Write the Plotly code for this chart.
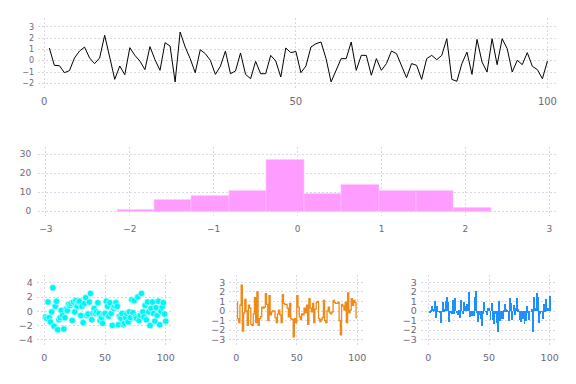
import plotly.graph_objects as go

# ---- data ----
line_x = list(range(1, 101))
line_y = [1.12, -0.41, -0.44, -1.06, -0.88, 0.24, 0.85, 1.2, 0.24, -0.26,
          0.24, 2.24, 0.32, -1.65, -0.47, -1.24, 1.15, 0.47, -0.03, -0.79,
          1.24, 0.09, -0.85, 1.59, 1.29, -1.88, 2.53, 1.21, 0.18, -1.06,
          0.97, 0.62, 0.03, -1.21, -0.5, 0.85, -1.15, -0.91, 0.68, -1.21,
          -1.59, -0.06, -1.15, -1.15, 0.47, -0.03, -1.44, 1.12, 0.71, 0.82,
          -1.06, -0.47, 1.21, 1.5, 1.65, 0.18, -1.88, -0.85, 0.18, 0.18,
          1.65, -0.85, 0.47, 0.47, -1.29, 0.18, -0.85, -0.26, 0.85, 0.62,
          -0.41, -1.5, -0.26, -0.41, -1.65, 0.18, 0.47, 0.09, 0.47, 1.94,
          -1.65, -1.82, -0.26, 0.76, -1.21, 1.88, -0.12, -1.0, 1.94, -0.35,
          1.94, 1.06, -1.0, 0.03, -0.35, 0.71, -0.5, -0.79, -1.59, -0.03]

hist_edges = [-2.154, -1.708, -1.262, -0.816, -0.370, 0.076, 0.522, 0.968, 1.414, 1.860, 2.306]
hist_counts = [1, 6, 8, 11, 27, 9, 14, 11, 11, 2]

scatter_x = list(range(1, 101))
scatter_y = [-0.8, -1.0, 1.3, -0.9, -1.5, -0.1, 3.3, -2.1, 0.7, 1.4,
             -2.6, -1.2, -0.9, 0.1, -0.6, -2.5, -0.9, 0.3, 0.1, 1.0,
             0.8, 1.1, -1.3, 1.3, -0.1, 1.5, 0.7, 1.3, 1.4, -0.6,
             0.7, -1.6, 1.1, 1.9, -0.6, -0.4, 1.3, 2.5, -1.2, -0.3,
             0.4, -0.3, -0.1, 1.2, -0.3, -1.3, -0.9, -1.7, -0.4, -0.3,
             1.4, 0.7, -0.7, 1.2, -0.3, -2.0, 0.4, 0.7, 1.2, 0.7,
             -1.9, -0.7, -1.0, -0.3, -1.9, -1.7, -0.9, -0.3, -1.5, -0.1,
             -0.9, 1.6, -0.2, 1.5, -0.8, -1.0, 2.0, -1.3, -0.6, 2.5,
             -0.1, -0.8, 0.8, -1.2, 1.3, -0.1, -2.0, 0.4, 1.3, -0.3,
             -1.4, 0.5, -0.6, 1.4, -1.9, 0.0, 0.6, 1.2, -0.4, -1.4]

step_x = list(range(1, 101))
step_y = [1.0, -0.8, -1.2, 0.6, 2.7, -2.1, -0.2, 1.2, 0.0, -1.5,
          0.6, 0.3, -1.4, -1.5, -0.3, 1.4, -1.2, 2.0, -1.5, -0.8,
          -0.6, 0.4, 0.3, 0.4, 1.8, 0.7, -1.0, 1.6, -0.4, -0.1,
          0.0, 0.0, -0.7, -1.2, -0.3, 0.1, -0.4, -1.2, 1.7, 0.8,
          0.7, 0.7, 0.3, -0.6, 0.8, -0.8, -0.9, -2.7, -0.8, -1.2,
          1.6, 0.4, -0.6, -0.9, -0.3, -0.4, 0.3, -0.2, 0.6, -1.4,
          1.3, 0.3, -0.1, 0.8, -1.2, 0.2, 0.9, 1.0, -0.8, -1.1,
          -0.9, -0.7, 1.1, -1.0, -1.2, 0.0, 0.4, -0.2, -0.3, -0.1,
          1.1, 0.9, 0.8, 0.8, 0.9, -1.0, -2.5, 0.7, 0.5, 0.1,
          0.9, -1.2, 1.9, -0.2, 0.1, 1.3, 0.6, 1.1, 0.9, -0.7]

bar_x = list(range(1, 101))
bar_y = [-0.2, 0.1, 0.5, 0.2, 1.0, -0.7, 0.5, -0.1, -0.2, -1.2,
         -0.1, 0.9, 0.2, 1.0, 1.5, 0.9, -1.1, -0.2, -0.3, 1.1,
         -0.3, 1.4, -0.2, -0.4, 0.1, -0.7, 1.2, -0.3, 0.9, 0.5,
         0.3, 0.7, 2.0, -0.6, -0.1, -0.5, -0.5, 1.5, 2.1, -0.2,
         -1.1, -0.4, -0.8, -1.6, -0.3, 0.9, -0.1, -0.4, 0.3, 0.3,
         -0.9, 0.8, -0.9, -1.4, -0.3, -1.2, -2.2, 1.0, -1.0, -0.8,
         -0.8, 0.1, 0.7, 0.2, 0.1, -1.0, 1.4, 0.8, -0.9, 0.6,
         -0.4, 0.3, 1.4, 0.2, -0.9, -1.1, -0.4, -0.8, -1.4, -1.0,
         0.5, -0.2, -0.9, 0.0, 0.2, -2.2, 1.5, 0.3, 1.9, 1.5,
         -1.3, -0.3, -0.1, -0.8, 0.7, -0.1, 1.3, 0.3, 0.3, 1.6]

top_xticks = [0, 50, 100]
top_yticks = [-2, -1, 0, 1, 2, 3]
hist_xticks = [-3, -2, -1, 0, 1, 2, 3]
hist_yticks = [0, 10, 20, 30]
small_xticks = [0, 50, 100]
scatter_yticks = [-4, -2, 0, 2, 4]
small_yticks = [-3, -2, -1, 0, 1, 2, 3]

W, H = 576, 384
OFF = 8  # page body margin offset

hist_centers = [(hist_edges[i] + hist_edges[i + 1]) / 2 for i in range(len(hist_counts))]
hist_widths = [hist_edges[i + 1] - hist_edges[i] for i in range(len(hist_counts))]

fig = go.Figure()
fig.add_trace(go.Scatter(x=line_x, y=line_y, mode="lines",
                         line=dict(color="black", width=1), xaxis="x", yaxis="y"))
fig.add_trace(go.Bar(x=hist_centers, y=hist_counts, width=hist_widths,
                     marker=dict(color="#ff9cff", line=dict(color="#ffc8ff", width=0.6)),
                     xaxis="x2", yaxis="y2"))
fig.add_trace(go.Scatter(x=scatter_x, y=scatter_y, mode="markers",
                         marker=dict(color="#00f5f5", size=6.5, line=dict(color="#e8ffff", width=0.6)),
                         xaxis="x3", yaxis="y3"))
fig.add_trace(go.Scatter(x=step_x, y=step_y, mode="lines", line_shape="vh",
                         line=dict(color="#ee8a1a", width=1.3), xaxis="x4", yaxis="y4"))
fig.add_trace(go.Bar(x=bar_x, y=bar_y, width=0.8,
                     marker=dict(color="#1e8fff", line=dict(width=0)),
                     xaxis="x5", yaxis="y5"))


def px_dom_x(a, b):
    return [(a - OFF) / W, (b - OFF) / W]


def px_dom_y(top, bottom):
    return [1 - (bottom - OFF) / H, 1 - (top - OFF) / H]


grid = dict(showgrid=True, gridcolor="#d9d6e6", gridwidth=1, griddash="2px,2px",
            zeroline=False, showline=False, ticks="", automargin=False)


def ax(**kw):
    d = dict(grid)
    d.update(kw)
    return d


TC = "#6e6878"
tf10 = dict(family="DejaVu Sans", color=TC, size=10)
tf95 = dict(family="DejaVu Sans", color=TC, size=9.5)
tf9 = dict(family="DejaVu Sans", color=TC, size=9)
tf8 = dict(family="DejaVu Sans", color=TC, size=8)

fig.update_layout(
    width=W, height=H, margin=dict(l=0, r=0, t=0, b=0),
    paper_bgcolor="white", plot_bgcolor="white", showlegend=False, bargap=0,
    xaxis=ax(domain=px_dom_x(38, 557), range=[-1.25, 101.9], tickvals=top_xticks,
             tickfont=tf10, anchor="y", ticklabelstandoff=4),
    yaxis=ax(domain=px_dom_y(18, 90), range=[-2.59, 3.77], tickvals=top_yticks,
             tickfont=tf8, anchor="x", ticklabelstandoff=3),
    xaxis2=ax(domain=px_dom_x(38.3, 556.7), range=[-3.09, 3.087], tickvals=hist_xticks,
              tickfont=tf9, anchor="y2", ticklabelstandoff=6),
    yaxis2=ax(domain=px_dom_y(146.7, 216), range=[-2.5, 34], tickvals=hist_yticks,
              tickfont=tf9, anchor="x2", ticklabelstandoff=6),
    xaxis3=ax(domain=px_dom_x(36.7, 171.7), range=[-6.3, 104.9], tickvals=small_xticks,
              tickfont=tf95, anchor="y3", ticklabelstandoff=5),
    yaxis3=ax(domain=px_dom_y(275, 345), range=[-4.75, 5.1], tickvals=scatter_yticks,
              tickfont=tf95, anchor="x3", ticklabelstandoff=3),
    xaxis4=ax(domain=px_dom_x(229.3, 363.3), range=[-5.8, 105], tickvals=small_xticks,
              tickfont=tf95, anchor="y4", ticklabelstandoff=5),
    yaxis4=ax(domain=px_dom_y(275, 345), range=[-3.55, 3.76], tickvals=small_yticks,
              tickfont=tf95, anchor="x4", ticklabelstandoff=3),
    xaxis5=ax(domain=px_dom_x(420.7, 555), range=[-6.3, 104.4], tickvals=small_xticks,
              tickfont=tf95, anchor="y5", ticklabelstandoff=5),
    yaxis5=ax(domain=px_dom_y(275, 345), range=[-3.55, 3.76], tickvals=small_yticks,
              tickfont=tf95, anchor="x5", ticklabelstandoff=3),
)

fig.write_html("out.html")
